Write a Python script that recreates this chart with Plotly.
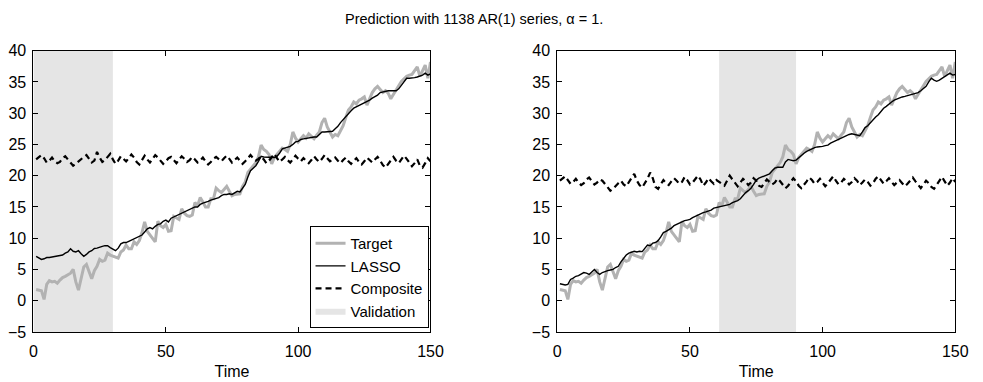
import plotly.graph_objects as go

# ---------------- data ----------------
time = list(range(1, 151))

target = [1.8, 1.7, 1.6, 0.2, 2.6, 3.2, 3.0, 3.1, 2.8, 3.3,
          3.7, 3.9, 4.1, 4.4, 5.0, 3.0, 1.7, 3.6, 5.4, 5.8,
          4.6, 3.5, 4.8, 5.5, 6.6, 6.3, 6.5, 7.6, 7.3, 7.1,
          7.0, 6.8, 7.8, 8.1, 8.9, 8.3, 8.3, 9.4, 9.0, 9.6,
          10.9, 12.6, 11.1, 10.5, 9.8, 9.4, 12.7, 12.0, 11.7, 12.2,
          11.1, 11.2, 13.5, 13.3, 13.0, 14.7, 14.0, 13.6, 13.5, 13.7,
          15.7, 15.2, 16.5, 15.8, 15.0, 15.0, 16.3, 16.3, 18.0, 17.6,
          17.3, 17.8, 18.3, 17.5, 16.8, 17.0, 17.0, 17.1, 18.3, 19.0,
          20.5, 21.1, 21.5, 22.1, 23.0, 24.9, 24.2, 23.9, 23.4, 21.9,
          22.9, 23.4, 23.9, 24.4, 24.2, 23.9, 25.0, 27.0, 26.0, 25.4,
          25.9, 26.4, 26.0, 26.7, 26.3, 25.9, 26.5, 27.0, 28.5, 29.2,
          27.8, 27.0, 26.2, 26.6, 26.4, 27.2, 28.0, 29.3, 30.5, 31.0,
          31.8, 31.5, 32.1, 32.3, 32.6, 31.3, 32.2, 33.3, 33.9, 34.3,
          33.8, 33.3, 33.6, 33.2, 32.3, 33.0, 33.6, 34.4, 35.1, 35.5,
          35.9, 36.1, 36.2, 36.8, 37.4, 35.9, 36.8, 37.7, 35.6, 38.2]

lasso_left = [7.1, 6.8, 6.6, 6.7, 6.9, 6.9, 7.0, 7.0, 7.1, 7.2,
              7.3, 7.6, 7.8, 8.3, 7.9, 7.8, 8.0, 7.5, 7.1, 7.4,
              7.8, 8.0, 8.35, 8.4, 8.6, 8.7, 8.8, 8.8, 8.5, 8.2,
              8.0, 8.4, 9.1, 9.3, 9.3, 9.5, 9.7, 9.9, 10.0, 10.3,
              10.5, 11.0, 11.5, 11.7, 11.5, 11.9, 12.2, 12.3, 12.7, 12.9,
              12.6, 13.2, 13.4, 13.6, 13.8, 14.0, 14.3, 14.5, 14.6, 14.9,
              15.0, 15.0, 15.4, 15.6, 15.7, 15.9, 16.1, 16.2, 16.3, 16.5,
              16.8, 17.0, 17.0, 17.1, 17.0, 17.2, 17.5, 17.4, 18.0, 18.6,
              19.8, 20.8, 21.2, 21.6, 22.3, 23.1, 23.0, 23.0, 22.9, 23.0,
              22.9, 23.1, 23.6, 24.3, 24.4, 24.6, 24.7, 25.0, 25.4, 25.5,
              25.8, 25.9, 26.0, 26.0, 26.1, 26.2, 26.2, 26.6, 27.0, 27.0,
              27.0, 27.0, 27.1, 27.5, 27.9, 28.5, 29.0, 29.5, 29.9, 30.4,
              30.8, 31.0, 31.3, 31.4, 31.6, 31.8, 32.1, 32.4, 32.6, 32.9,
              33.3, 33.4, 33.6, 33.6, 33.6, 33.6, 33.6, 33.9, 34.5, 35.1,
              35.6, 35.6, 35.6, 35.7, 35.8, 35.9, 36.1, 36.4, 36.1, 36.3]

lasso_right = [2.7, 2.6, 2.5, 2.6, 3.4, 3.6, 3.9, 4.0, 4.3, 4.5,
               4.4, 4.2, 4.6, 5.0, 4.5, 4.2, 4.5, 4.7, 4.8, 4.9,
               5.0, 5.3, 5.5, 6.2, 6.8, 7.3, 7.6, 7.8, 7.9, 7.8,
               7.9, 7.85, 8.4, 8.9, 8.8, 9.2, 9.3, 9.6, 10.2, 10.9,
               11.1, 11.3, 11.6, 12.0, 12.2, 12.4, 12.7, 12.8, 12.9, 13.0,
               13.3, 13.5, 13.7, 14.0, 14.1, 14.2, 14.3, 14.5, 14.8, 14.9,
               15.0, 15.0, 15.2, 15.3, 15.4, 15.7, 15.8, 16.0, 16.3, 16.8,
               17.3, 17.6, 18.0, 18.6, 19.3, 19.6, 19.8, 20.0, 20.1, 20.3,
               20.8, 21.2, 21.35, 21.4, 21.35, 22.2, 22.6, 22.5, 22.4, 22.5,
               22.9, 23.2, 23.6, 23.9, 24.1, 24.4, 24.5, 24.6, 24.6, 24.7,
               24.8, 24.9, 25.2, 25.4, 25.6, 25.9, 26.0, 26.3, 26.5, 26.6,
               26.7, 26.6, 26.5, 26.4, 27.0, 27.7, 28.0, 28.5, 29.0, 29.4,
               29.75, 30.3, 30.8, 31.1, 31.5, 31.8, 32.1, 32.3, 32.5, 32.6,
               32.7, 32.8, 32.9, 33.0, 33.1, 33.3, 33.6, 33.9, 34.3, 35.0,
               35.6, 35.3, 35.1, 35.3, 35.6, 35.8, 36.1, 36.4, 36.1, 36.2]

composite_left = [22.6, 22.9, 23.3, 22.8, 22.1, 22.4, 22.9, 22.3, 22.0, 22.2,
                  22.8, 23.1, 22.6, 22.2, 21.6, 21.9, 22.3, 22.6, 23.0, 23.3,
                  22.7, 22.1, 22.4, 23.8, 22.9, 22.2, 22.5, 23.0, 23.5, 22.6,
                  21.9, 22.4, 23.1, 22.7, 22.3, 22.8, 23.4, 22.9, 22.2, 21.8,
                  22.5, 23.2, 22.6, 22.1, 22.7, 23.3, 22.9, 22.4, 21.9, 22.3,
                  22.8, 23.0, 22.5, 22.0, 22.6, 23.1, 22.7, 22.2, 22.5, 23.0,
                  22.6, 22.1, 22.4, 22.9, 22.3, 21.8, 22.2, 22.7, 23.0, 22.6,
                  22.3, 22.8, 23.2, 22.7, 22.1, 22.5, 22.9, 22.4, 21.9, 22.3,
                  22.8, 23.3, 22.8, 22.4, 22.7, 23.1, 22.6, 22.0, 22.4, 22.9,
                  23.5, 22.8, 22.2, 22.6, 23.0, 22.5, 22.1, 22.6, 23.2, 22.7,
                  22.3, 22.8, 22.4, 22.0, 22.5, 23.1, 22.6, 22.2, 22.7, 23.3,
                  22.8, 22.3, 22.6, 22.9, 22.4, 22.0, 22.5, 22.9, 22.3, 21.9,
                  22.4, 22.8, 22.2, 21.8, 22.3, 22.9, 22.5, 22.1, 22.6, 23.0,
                  22.4, 21.7, 21.3, 21.9, 22.5, 23.0, 22.4, 22.0, 22.6, 23.2,
                  22.7, 22.1, 21.5, 22.0, 22.6, 21.6, 21.3, 22.0, 22.8, 22.3]

composite_right = [19.2, 19.6, 19.9, 19.3, 18.7, 19.0, 19.5, 18.9, 18.5, 18.8,
                   19.4, 19.7, 19.1, 18.6, 18.9, 19.4, 19.2, 18.6, 18.2, 17.6,
                   17.9, 18.4, 18.8, 19.2, 18.6, 18.3, 18.9, 19.6, 20.3, 19.2,
                   18.5, 18.1, 18.7, 19.5, 20.5, 19.6, 18.2, 17.9, 18.6, 19.3,
                   18.8, 18.5, 19.1, 19.6, 19.2, 18.7, 19.0, 19.8, 19.3, 18.6,
                   18.9, 19.5, 20.0, 19.4, 18.4, 18.9, 19.6, 19.1, 18.7, 19.3,
                   19.0, 18.6, 18.4, 19.2, 20.0, 19.4, 18.8, 18.3, 18.9, 19.5,
                   19.1, 18.5, 18.9, 19.6, 19.2, 18.4, 18.2, 18.8, 19.4, 19.0,
                   18.6, 18.9, 19.5, 19.1, 18.5, 18.0, 18.4, 19.0, 19.6, 19.1,
                   18.4, 18.0, 18.5, 19.1, 19.7, 19.3, 18.7, 19.0, 19.5, 18.9,
                   18.3, 18.8, 19.4, 19.9, 19.2, 18.6, 18.9, 19.5, 19.1, 18.6,
                   19.0, 19.6, 19.2, 18.5, 18.9, 19.4, 19.0, 18.4, 18.8, 19.5,
                   19.9, 19.3, 18.7, 19.1, 19.6, 19.0, 18.5, 18.9, 19.3, 18.8,
                   18.3, 18.7, 19.2, 19.7, 19.1, 18.5, 18.0, 18.6, 19.2, 18.8,
                   18.2, 17.9, 18.6, 19.3, 19.8, 19.1, 18.4, 18.9, 19.6, 19.0]

validation_left = [0, 30]
validation_right = [61, 90]

xticks = [0, 50, 100, 150]
yticks = [-5, 0, 5, 10, 15, 20, 25, 30, 35, 40]
x_range = [0, 150]
y_range = [-5, 40]

title_text = "Prediction with 1138 AR(1) series, \u03b1 = 1."

# ---------------- figure ----------------
W, H = 983, 382
GRAY = "#b2b2b2"
SHADE = "#e5e5e5"

fig = go.Figure()

panels = [
    ("x", "y", validation_left, lasso_left, composite_left, True),
    ("x2", "y2", validation_right, lasso_right, composite_right, False),
]

for xa, ya, val, lasso, comp, show in panels:
    fig.add_trace(go.Scatter(
        x=[val[0], val[1], val[1], val[0], val[0]],
        y=[y_range[0], y_range[0], y_range[1], y_range[1], y_range[0]],
        mode="lines", fill="toself", fillcolor=SHADE,
        line=dict(width=0, color=SHADE), name="Validation",
        showlegend=show, legendrank=4, xaxis=xa, yaxis=ya, hoverinfo="skip"))
    fig.add_trace(go.Scatter(
        x=time, y=target, mode="lines", name="Target",
        line=dict(color=GRAY, width=3), showlegend=show, legendrank=1,
        xaxis=xa, yaxis=ya))
    fig.add_trace(go.Scatter(
        x=time, y=lasso, mode="lines", name="LASSO",
        line=dict(color="black", width=1.4), showlegend=show, legendrank=2,
        xaxis=xa, yaxis=ya))
    fig.add_trace(go.Scatter(
        x=time, y=comp, mode="lines", name="Composite",
        line=dict(color="black", width=2.2, dash="6px,4px"), showlegend=show,
        legendrank=3, xaxis=xa, yaxis=ya))

y0 = (H - 339) / H
y1 = (H - 44.7) / H

axis_common = dict(
    showline=True, linecolor="black", linewidth=1, mirror="ticks",
    ticks="inside", ticklen=5, tickwidth=1, tickcolor="black",
    showgrid=False, zeroline=False,
    tickfont=dict(family="Liberation Sans, Arial", size=16, color="black"),
)

xaxis_extra = dict(range=x_range, tickvals=xticks, ticklabelstandoff=5,
                   title=dict(text="Time", standoff=6, font=dict(size=16)))
yaxis_extra = dict(range=y_range, tickvals=yticks, ticklabelstandoff=3)

fig.update_layout(
    width=W, height=H,
    margin=dict(l=0, r=0, t=0, b=0),
    paper_bgcolor="white", plot_bgcolor="white",
    font=dict(family="Liberation Sans, Arial", color="black"),
    xaxis=dict(domain=[30 / W, 434 / W], anchor="y", **xaxis_extra, **axis_common),
    yaxis=dict(domain=[y0, y1], anchor="x", **yaxis_extra, **axis_common),
    xaxis2=dict(domain=[563 / W, 968 / W], anchor="y2", **xaxis_extra, **axis_common),
    yaxis2=dict(domain=[y0, y1], anchor="x2", **yaxis_extra, **axis_common),
    legend=dict(x=432 / W, y=(H - 335) / H, xanchor="right", yanchor="bottom",
                bgcolor="white", bordercolor="black", borderwidth=1,
                font=dict(size=15, color="black"), tracegroupgap=0,
                itemwidth=30),
    showlegend=True,
    annotations=[dict(text=title_text, x=478 / W, y=(H - 11) / H,
                      xref="paper", yref="paper", showarrow=False,
                      xanchor="center", yanchor="middle",
                      font=dict(size=14.5, color="black"))],
)

fig.write_html("out.html")
